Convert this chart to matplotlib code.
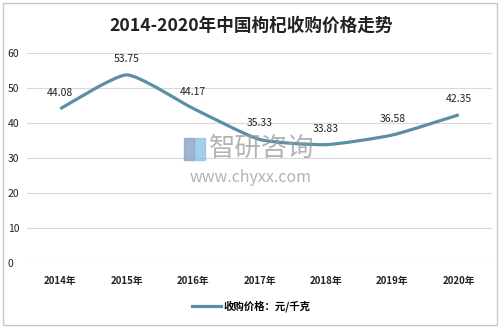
import matplotlib.pyplot as plt
from matplotlib.path import Path
from matplotlib.patches import PathPatch, Rectangle
import numpy as np

plt.rcParams['font.family'] = ['Noto Sans CJK SC', 'DejaVu Sans']

years = ['2014年', '2015年', '2016年', '2017年', '2018年', '2019年', '2020年']
prices = [44.08, 53.75, 44.17, 35.33, 33.83, 36.58, 42.35]
series_name = '收购价格：元/千克'
title = '2014-2020年中国枸杞收购价格走势'

line_color = '#5b8fa5'

fig = plt.figure(figsize=(5.02, 3.29), dpi=100)
ax = fig.add_axes([0.054, 0.2, 0.926, 0.639])

x = np.arange(len(years))
y = np.array(prices)

# lightly smoothed curve through the points (bezier handles from neighbours)
verts = [(x[0], y[0])]
codes = [Path.MOVETO]
t = 0.09
for i in range(len(x) - 1):
    p0 = np.array([x[max(i - 1, 0)], y[max(i - 1, 0)]])
    p1 = np.array([x[i], y[i]])
    p2 = np.array([x[i + 1], y[i + 1]])
    p3 = np.array([x[min(i + 2, len(x) - 1)], y[min(i + 2, len(x) - 1)]])
    c1 = p1 + (p2 - p0) * t
    c2 = p2 - (p3 - p1) * t
    verts += [tuple(c1), tuple(c2), tuple(p2)]
    codes += [Path.CURVE4] * 3
ax.add_patch(PathPatch(Path(verts, codes), facecolor='none', edgecolor=line_color,
                       lw=2.3, capstyle='butt', joinstyle='round', zorder=3))
# empty line used only for the legend handle
ax.plot([], [], color=line_color, lw=2.3, label=series_name)

for xi, yi in zip(x, y):
    ax.annotate(f'{yi:.2f}', (xi, yi), textcoords='offset points', xytext=(0, 8),
                ha='center', va='bottom', fontsize=7.5, color='#222222')

ax.set_xlim(-0.5, len(years) - 0.5)
ax.set_ylim(0, 60)
ax.set_yticks(range(0, 61, 10))
ax.set_xticks(x)
ax.set_xticklabels(years, fontweight='bold')
ax.tick_params(axis='x', length=0, pad=9, labelsize=7, labelcolor='#222222')
ax.tick_params(axis='y', length=0, pad=14, labelsize=7.5, labelcolor='#222222')
for lbl in ax.get_yticklabels():
    lbl.set_horizontalalignment('left')
ax.grid(axis='y', color='#d9d9d9', lw=0.8)
ax.set_axisbelow(True)
for s in ax.spines.values():
    s.set_visible(False)

fig.text(0.5, 0.923, title, ha='center', va='center', fontsize=12.7,
         fontweight='bold', color='#222222')

leg = fig.legend(loc='center', bbox_to_anchor=(0.5, 0.068), frameon=False,
                 fontsize=7.5, handlelength=2.8, handletextpad=0.2)
for txt in leg.get_texts():
    txt.set_fontweight('bold')

# watermark
fig.text(0.416, 0.55, '智研咨询', ha='left', va='center', fontsize=19,
         color='#9a9a9a', alpha=0.75)
fig.text(0.5, 0.46, 'www.chyxx.com', ha='center', va='center', fontsize=11.5,
         color='#9a9a9a', alpha=0.75)
fig.patches.append(Rectangle((0.366, 0.515), 0.02, 0.065, transform=fig.transFigure,
                             color='#8aa3c7', alpha=0.8))
fig.patches.append(Rectangle((0.389, 0.515), 0.02, 0.065, transform=fig.transFigure,
                             color='#8fc3e3', alpha=0.8))

# outer frame
fig.patches.append(Rectangle((0.006, 0.012), 0.985, 0.978, transform=fig.transFigure,
                             fill=False, edgecolor='#c8c8c8', lw=1))

fig.savefig('out.png', dpi=100)
